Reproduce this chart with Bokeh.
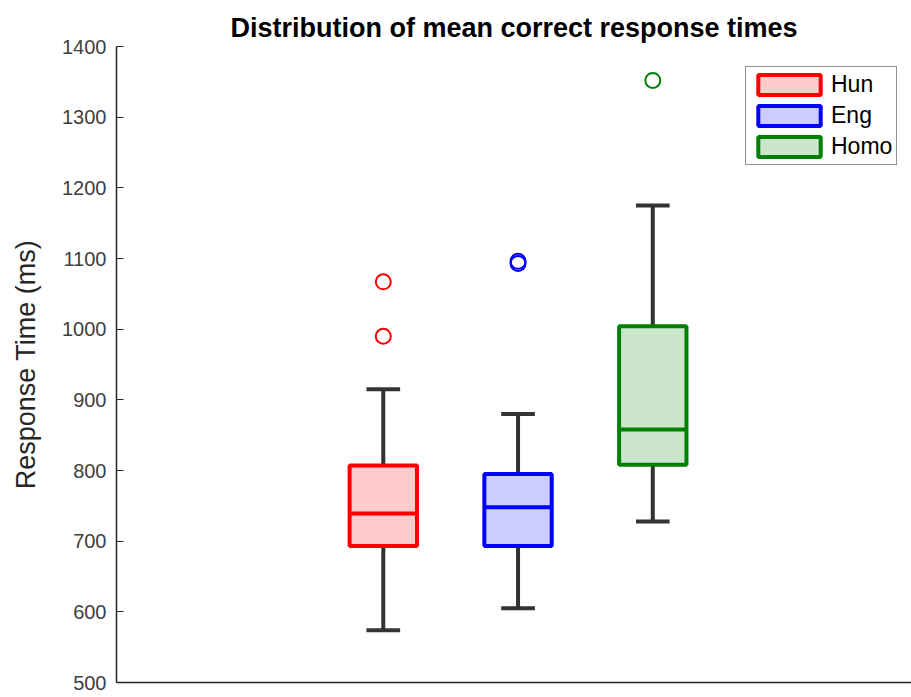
from bokeh.plotting import figure
from bokeh.models import ColumnDataSource, Range1d, Legend, LegendItem, FixedTicker
from bokeh.embed import file_html
from bokeh.resources import INLINE

# ---- data ----
groups = ["Hun", "Eng", "Homo"]
positions = [1, 2, 3]
q1 = [693, 693, 808]
medians = [739, 748, 858]
q3 = [807, 795, 1004]
whisker_lo = [574, 605, 728]
whisker_hi = [915, 880, 1175]
outlier_group = ["Hun", "Hun", "Eng", "Eng", "Homo"]
outlier_pos = [1, 1, 2, 2, 3]
outlier_vals = [990, 1067, 1093, 1096, 1352]

edge_colors = ["#FF0000", "#0000FF", "#008000"]
fill_colors = ["#FFCCCC", "#CCCCFF", "#CCE6CC"]
outlier_colors = ["#FF0000", "#FF0000", "#0000FF", "#0000FF", "#008000"]

y_ticks = [500, 600, 700, 800, 900, 1000, 1100, 1200, 1300, 1400]

box_w = 0.5
cap_w = 0.25

FONT = "Liberation Sans"

p = figure(width=911, height=697, output_backend="svg", toolbar_location=None,
           x_range=Range1d(-0.98, 4.92), y_range=Range1d(500, 1400),
           min_border_left=116, min_border_right=0, min_border_top=46,
           min_border_bottom=15, outline_line_color=None,
           background_fill_color="white", border_fill_color="white")

p.title.text = "Distribution of mean correct response times"
p.title.align = "center"
p.title.text_font = FONT
p.title.text_font_style = "bold"
p.title.text_font_size = "27px"
p.title.text_color = "#000000"
p.title.standoff = 8

p.grid.visible = False

# axes
p.xaxis.ticker = FixedTicker(ticks=[])
p.xaxis.major_tick_line_color = None
p.xaxis.minor_tick_line_color = None
p.xaxis.axis_line_color = "#262626"
p.xaxis.axis_line_width = 1.5

p.yaxis.ticker = FixedTicker(ticks=y_ticks)
p.yaxis.minor_tick_line_color = None
p.yaxis.major_tick_in = 7
p.yaxis.major_tick_out = 0
p.yaxis.major_tick_line_color = "#262626"
p.yaxis.axis_line_color = "#262626"
p.yaxis.axis_line_width = 1.5
p.yaxis.major_label_text_font = FONT
p.yaxis.major_label_text_font_size = "20px"
p.yaxis.major_label_text_color = "#404040"
p.yaxis.major_label_standoff = 10
p.yaxis.axis_label = "Response Time (ms)"
p.yaxis.axis_label_text_font = FONT
p.yaxis.axis_label_text_font_size = "27px"
p.yaxis.axis_label_text_font_style = "normal"
p.yaxis.axis_label_text_color = "#262626"
p.yaxis.axis_label_standoff = 18

src = ColumnDataSource(dict(
    name=groups,
    x=positions,
    left=[x - box_w / 2 for x in positions],
    right=[x + box_w / 2 for x in positions],
    cap_l=[x - cap_w / 2 for x in positions],
    cap_r=[x + cap_w / 2 for x in positions],
    q1=q1, q3=q3, med=medians, lo=whisker_lo, hi=whisker_hi,
    edge=edge_colors, fill=fill_colors,
))

wc = "#333333"
# whiskers
p.segment(x0="x", y0="q3", x1="x", y1="hi", source=src, line_color=wc, line_width=4)
p.segment(x0="x", y0="lo", x1="x", y1="q1", source=src, line_color=wc, line_width=4)
p.segment(x0="cap_l", y0="hi", x1="cap_r", y1="hi", source=src, line_color=wc, line_width=4)
p.segment(x0="cap_l", y0="lo", x1="cap_r", y1="lo", source=src, line_color=wc, line_width=4)

# boxes
boxes = p.quad(left="left", right="right", bottom="q1", top="q3", source=src,
               fill_color="fill", line_color="edge", line_width=4)
p.segment(x0="left", y0="med", x1="right", y1="med", source=src,
          line_color="edge", line_width=4)

# outliers
osrc = ColumnDataSource(dict(x=outlier_pos, y=outlier_vals, c=outlier_colors, g=outlier_group))
p.scatter(x="x", y="y", source=osrc, marker="circle", size=15, fill_color=None,
          line_color="c", line_width=2)

items = [LegendItem(label=g, renderers=[boxes], index=i) for i, g in enumerate(groups)]
legend = Legend(items=items, location=(629, 517), orientation="vertical",
                glyph_width=78, glyph_height=25, spacing=4, padding=4, margin=0,
                label_standoff=3, label_text_font=FONT, label_text_font_size="23px",
                label_text_color="#000000", label_height=25,
                border_line_color="#262626", border_line_width=1.5,
                background_fill_color="white", background_fill_alpha=1)
p.add_layout(legend)

open("out.html", "w").write(file_html(p, INLINE))
